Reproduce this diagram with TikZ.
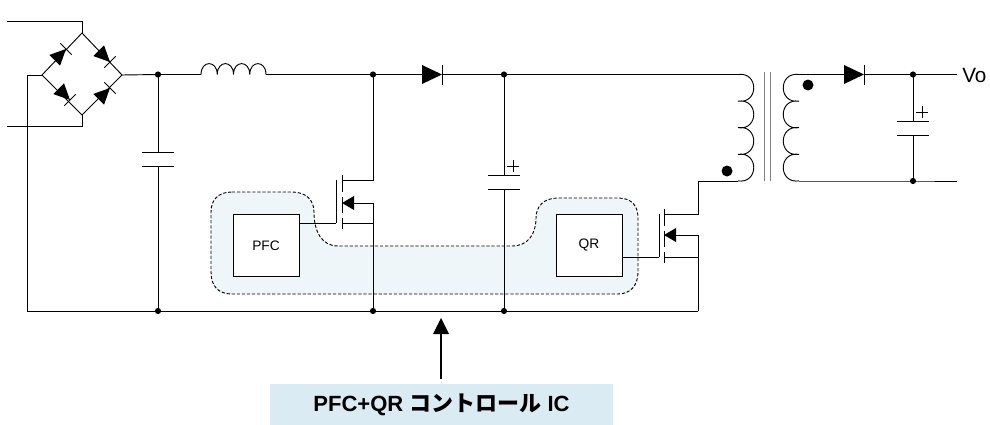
\documentclass[tikz,border=0pt]{standalone}
\usepackage{fontspec}
\setmainfont{Liberation Sans}
\newfontfamily\jpfont{Noto Sans CJK JP}
\definecolor{blobfill}{HTML}{EFF6F9}
\definecolor{labelfill}{HTML}{DAEBF3}
\tikzset{
    wire/.style={line width=0.7pt},
    thinwire/.style={line width=0.6pt},
    ctrlbox/.style={draw, line width=0.7pt, fill=white, minimum width=49.5pt, minimum height=47pt, inner sep=0pt, font=\fontsize{10.3}{12}\selectfont},
    diode/.pic={
            \fill (-20, -9.5) -- (0, 0) -- (-20, 9.5) -- cycle;
            \draw[thinwire] (0, -10) -- (0, 10);
            \coordinate (-in) at (-20, 0);
            \coordinate (-out) at (0, 0);
        },
    capacitor/.pic={
            \draw[thinwire] (-16, -7) -- (16, -7);
            \draw[thinwire] (-16, 7) -- (16, 7);
            \coordinate (-top) at (0, -7);
            \coordinate (-bot) at (0, 7);
        },
    polcapacitor/.pic={
            \draw[thinwire] (-16, -7) -- (16, -7);
            \draw[thinwire] (-16, 7) -- (16, 7);
            \draw[thinwire] (3, -16) -- (15, -16);
            \draw[thinwire] (9, -22) -- (9, -10);
            \coordinate (-top) at (0, -7);
            \coordinate (-bot) at (0, 7);
        },
}
\begin{document}
\begin{tikzpicture}[x=0.75pt, y=-0.75pt]
        \useasboundingbox (0, 0) rectangle (990, 425);
        %draw shaded control area
        \draw[fill=blobfill, line width=0.7pt, dash pattern=on 2.4pt off 1.4pt]
            (232, 192) -- (292, 192) .. controls (306, 192) and (314, 200) .. (314, 212)
            .. controls (314, 232) and (322, 246) .. (338, 246) -- (512, 246)
            .. controls (528, 246) and (536, 234) .. (536, 218)
            .. controls (536, 206) and (544, 198) .. (558, 198) -- (618, 198)
            .. controls (632, 198) and (638, 206) .. (638, 218) -- (638, 272)
            .. controls (638, 286) and (630, 294) .. (618, 294) -- (232, 294)
            .. controls (218, 294) and (211, 286) .. (211, 272) -- (211, 212)
            .. controls (211, 200) and (218, 192) .. (232, 192) -- cycle;
        %junctions
        \coordinate (acTopIn) at (7, 21);
        \coordinate (acBotIn) at (7, 126);
        \coordinate (brTop) at (82, 33);
        \coordinate (brLeft) at (42, 75);
        \coordinate (brRight) at (122, 75);
        \coordinate (brBot) at (82, 115);
        \coordinate (j1) at (158, 74.5);
        \coordinate (j2) at (373, 74.5);
        \coordinate (j3) at (504, 74.5);
        \coordinate (j4) at (913, 74.5);
        \coordinate (j5) at (913, 181);
        \coordinate (g1) at (158, 311);
        \coordinate (g2) at (373, 311);
        \coordinate (g3) at (504, 311);
        \coordinate (gLeft) at (27, 311);
        \coordinate (gRight) at (698, 311);
        \coordinate (coilPriTop) at (738, 74.5);
        \coordinate (coilPriBot) at (738, 181);
        \coordinate (coilSecTop) at (799, 74.5);
        \coordinate (coilSecBot) at (799, 181);
        \coordinate (voEnd) at (957, 74.5);
        \coordinate (retEnd) at (957, 181);
        \coordinate (lStart) at (201, 74.5);
        \coordinate (lEnd) at (266, 74.5);
        %draw bridge
        \draw[wire] (brTop) -- (brRight) -- (brBot) -- (brLeft) -- cycle;
        \draw[wire] (acTopIn) -| (brTop);
        \draw[wire] (acBotIn) -| (brBot);
        \pic[rotate=45, scale=0.8] (d1) at (66, 49) {diode};
        \pic[rotate=-45, scale=0.8] (d2) at (110, 62) {diode};
        \pic[rotate=-45, scale=0.8] (d3) at (70, 100) {diode};
        \pic[rotate=45, scale=0.8] (d4) at (110, 88) {diode};
        %draw rails
        \draw[wire] (brLeft) -- (27, 75) -- (gLeft) -- (gRight);
        \draw[wire] (brRight) -- (j1) -- (lStart);
        \pic (d5) at (442, 74.5) {diode};
        \draw[wire] (lEnd) -- (j2) -- (d5-in);
        \draw[wire] (d5-out) -- (j3) -- (coilPriTop);
        %draw inductor
        \draw[wire] (lStart)
            \foreach \i in {0, 1, 2, 3} {
                .. controls ++(0, -14.5) and ++(0, -14.5) .. ++(16.25, 0)
            };
        %draw capacitors
        \pic (c1) at (158, 159) {capacitor};
        \draw[wire] (j1) -- (c1-top);
        \draw[wire] (c1-bot) -- (g1);
        \pic (c2) at (504, 182) {polcapacitor};
        \draw[wire] (j3) -- (c2-top);
        \draw[wire] (c2-bot) -- (g3);
        \pic (c3) at (913, 128) {polcapacitor};
        \draw[wire] (j4) -- (c3-top);
        \draw[wire] (c3-bot) -- (j5);
        %draw transformer
        \draw[wire] (coilPriTop)
            \foreach \i in {0, 1, 2, 3} {
                .. controls ++(21, -3) and ++(21, 3) .. ++(0, 26.6)
            };
        \draw[wire] (coilSecTop)
            \foreach \i in {0, 1, 2, 3} {
                .. controls ++(-21, -3) and ++(-21, 3) .. ++(0, 26.6)
            };
        \draw[wire, gray] (764, 72) -- (764, 181);
        \draw[wire, gray] (770, 72) -- (770, 181);
        \fill (727, 171) circle (5.5);
        \fill (808, 85) circle (5.5);
        %draw secondary
        \pic (d6) at (864, 74.5) {diode};
        \draw[wire] (coilSecTop) -- (d6-in);
        \draw[wire] (d6-out) -- (j4) -- (voEnd);
        \draw[wire] (coilSecBot) -- (j5) -- (retEnd);
        \node[anchor=west, inner sep=0pt, font=\fontsize{15.5}{18}\selectfont] (vo) at (962, 75) {Vo};
        %draw controllers
        \node[ctrlbox] (pfc) at (266, 245.5) {PFC};
        \node[ctrlbox] (qr) at (589, 245.5) {QR};
        %draw first switch
        \coordinate (gate1) at (336, 223);
        \coordinate (drain1) at (342, 180);
        \coordinate (source1) at (342, 223);
        \coordinate (body1) at (342, 203);
        \draw[wire] (pfc.east |- gate1) -- (gate1);
        \draw[wire] (336, 180) -- (336, 223);
        \draw[thinwire] (342, 175) -- (342, 192);
        \draw[thinwire] (342, 197) -- (342, 213);
        \draw[thinwire] (342, 218) -- (342, 229);
        \draw[wire] (j2) |- (drain1);
        \draw[wire] (source1) -- (source1 -| g2);
        \draw[wire] (g2) |- (body1 -| g2);
        \draw[wire] (body1 -| g2) -- (354, 203);
        \fill (body1) -- (354, 196) -- (354, 210) -- cycle;
        %draw second switch
        \coordinate (gate2) at (659, 257);
        \coordinate (drain2) at (664, 214);
        \coordinate (source2) at (664, 257);
        \coordinate (body2) at (664, 235);
        \draw[wire] (qr.east |- gate2) -- (gate2);
        \draw[wire] (659, 214) -- (659, 257);
        \draw[thinwire] (664, 209) -- (664, 226);
        \draw[thinwire] (664, 231) -- (664, 247);
        \draw[thinwire] (664, 252) -- (664, 263);
        \draw[wire] (drain2) -- (698, 214) |- (coilPriBot);
        \draw[wire] (source2) -- (source2 -| gRight);
        \draw[wire] (gRight) |- (body2);
        \fill (body2) -- (676, 228) -- (676, 242) -- cycle;
        %draw points
        \foreach \p in {j1, j2, j3, j4, j5, g1, g2, g3} {
                \fill (\p) circle (3.1);
            }
        %draw label
        \node[fill=labelfill, minimum width=257pt, minimum height=30.5pt, inner sep=0pt, font=\fontsize{16.5}{19}\selectfont\bfseries] (ctrlic) at (441.5, 404.5) {PFC+QR {\jpfont\bfseries コントロール} IC};
        \coordinate (arrowTip) at (441, 318);
        \draw[line width=2pt] (441, 379) -- (441, 332);
        \fill (arrowTip) -- (449, 334) -- (433, 334) -- cycle;
    \end{tikzpicture}
\end{document}
